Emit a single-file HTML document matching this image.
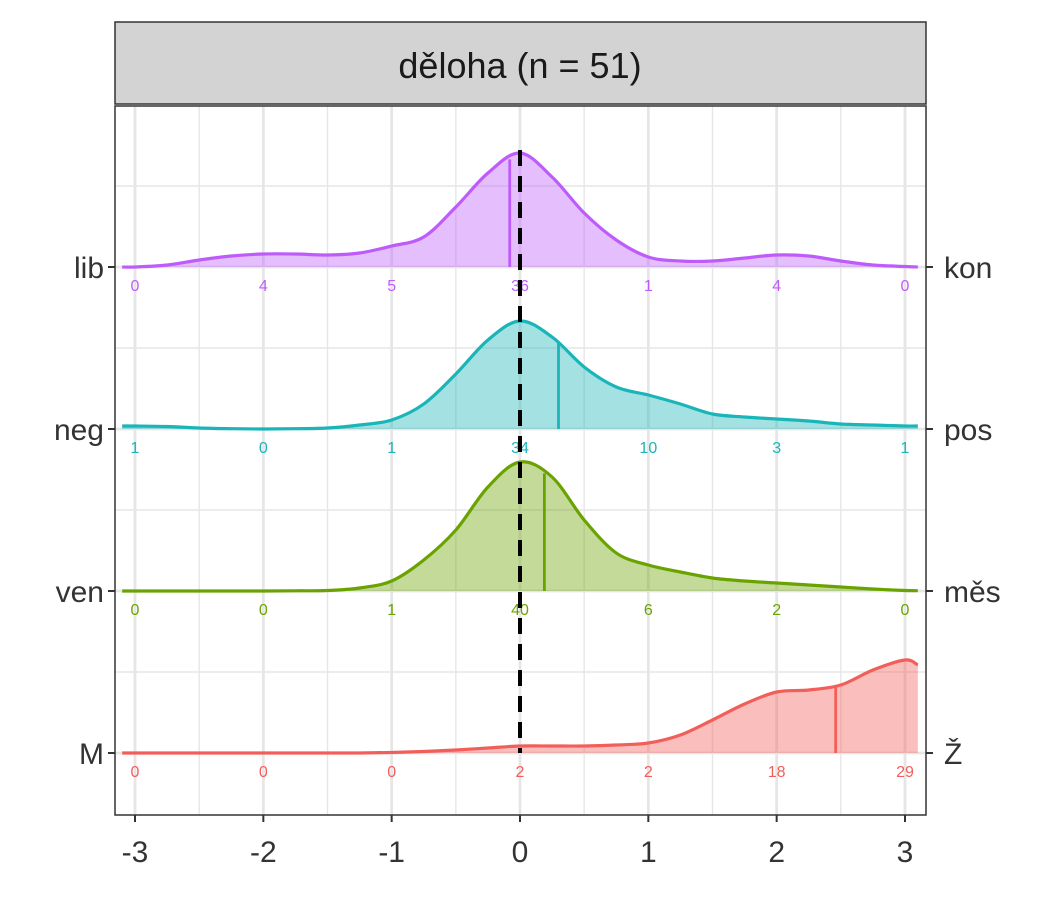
<!DOCTYPE html>
<html><head><meta charset="utf-8"><style>
body{margin:0;background:#fff;}
svg text{font-family:"Liberation Sans",sans-serif;}
</style></head><body>
<svg id="chart" width="1050" height="900" viewBox="0 0 1050 900" xmlns="http://www.w3.org/2000/svg">
<rect x="0" y="0" width="1050" height="900" fill="#fff"/>
<g id="grid"></g>
<g id="marks"></g>
<rect x="115" y="106" width="811" height="709" fill="none" stroke="#333" stroke-width="1.5"/>
<rect x="115" y="22" width="811" height="82" fill="#D3D3D3" stroke="#333" stroke-width="1.5"/>
<text x="520" y="78" font-size="36" text-anchor="middle" fill="#1a1a1a">děloha (n = 51)</text>
<g id="axes"></g>
</svg>
<script>
const xs=[-3.1,-3,-2.75,-2.5,-2.25,-2,-1.75,-1.5,-1.25,-1,-0.75,-0.5,-0.25,0,0.25,0.5,0.75,1,1.25,1.5,1.75,2,2.25,2.5,2.75,3,3.1];
const rowsLeft=["M","ven","neg","lib"];
const rowsRight=["Ž","měs","pos","kon"];
const dens_M=[0,0,0,0,0,0,0,0,0,0.5,1.5,3,5,7,7,7,8,10,18,33,49,61,63,68,83,93,88];
const dens_ven=[0,0,0,0,0,0,0.2,0.5,3,10,31,61,104,129,114,71,38,26,19,13,10,8,6,4,2,0.5,0.3];
const dens_neg=[3,3,2.5,1,0.3,0,0.3,1,4,9,25,55,89,108,92,62,42,34,25,15,12,10,8,5,4,3,3];
const dens_lib=[0,0,2,7,11,13,13,12,14,21,30,60,94,114,90,54,27,10,6,6,9,12,11,6,2,0.5,0];
const medians=[2.46,0.19,0.3,-0.08];
const countX=[-3,-2,-1,0,1,2,3];
const counts_M=[0,0,0,2,2,18,29];
const counts_ven=[0,0,1,40,6,2,0];
const counts_neg=[1,0,1,34,10,3,1];
const counts_lib=[0,4,5,36,1,4,0];
const xTicks=[-3,-2,-1,0,1,2,3];

const colors=["#F25E5A","#6AA300","#1AB5B8","#BD5CFA"];
const dens=[dens_M,dens_ven,dens_neg,dens_lib];
const cnts=[counts_M,counts_ven,counts_neg,counts_lib];
const X=v=>520+v*128.33;
const Yb=i=>753-i*162;
const NS="http://www.w3.org/2000/svg";
function mk(t,a,p){const e=document.createElementNS(NS,t);for(const k in a)e.setAttribute(k,a[k]);p.appendChild(e);return e;}
const grid=document.getElementById('grid'),marks=document.getElementById('marks'),axes=document.getElementById('axes');
mk('rect',{x:115,y:106,width:811,height:709,fill:'#fff'},grid);
for(let v=-3;v<=3;v+=0.5){const l=mk('line',{x1:X(v),x2:X(v),y1:106,y2:815,stroke:'#E6E6E6','stroke-width':Number.isInteger(v)?2.8:1.4},grid);

}
for(let i=0;i<4;i++){for(const y of [Yb(i),Yb(i)-81]){const l=mk('line',{x1:115,x2:926,y1:y,y2:y,stroke:'#E6E6E6','stroke-width':y===Yb(i)?2.8:1.4},grid);

}}
function curve(pts){let d=`M${pts[0][0]},${pts[0][1]}`;for(let i=0;i<pts.length-1;i++){const p0=pts[Math.max(0,i-1)],p1=pts[i],p2=pts[i+1],p3=pts[Math.min(pts.length-1,i+2)];
d+=` C${p1[0]+(p2[0]-p0[0])/6},${p1[1]+(p2[1]-p0[1])/6} ${p2[0]-(p3[0]-p1[0])/6},${p2[1]-(p3[1]-p1[1])/6} ${p2[0]},${p2[1]}`;}return d;}
function interp(arr,v){for(let i=0;i<xs.length-1;i++){if(v>=xs[i]&&v<=xs[i+1]){const t=(v-xs[i])/(xs[i+1]-xs[i]);return arr[i]+t*(arr[i+1]-arr[i]);}}return 0;}
for(let i=3;i>=0;i--){
  const b=Yb(i);const pts=xs.map((v,k)=>[X(v),b-dens[i][k]]);const d=curve(pts);
  const f=mk('path',{d:d+` L${X(xs[xs.length-1])},${b} L${X(xs[0])},${b} Z`,fill:colors[i],'fill-opacity':0.4,stroke:'none'},marks);
  
  
  const l=mk('path',{d:d,fill:'none',stroke:colors[i],'stroke-width':3.2},marks);
  
  
  const m=medians[i];const ml=mk('line',{x1:X(m),x2:X(m),y1:b,y2:b-interp(dens[i],m),stroke:colors[i],'stroke-width':2.8},marks);
  
  
  countX.forEach((v,k)=>{const t=mk('text',{x:X(v),y:b+24,'font-size':16,'text-anchor':'middle',fill:colors[i]},marks);t.textContent=cnts[i][k];
  
  });
}
const dl=mk('line',{x1:X(0),x2:X(0),y1:150,y2:753,stroke:'#000','stroke-width':4,'stroke-dasharray':'16,10'},marks);


xTicks.forEach(v=>{mk('line',{x1:X(v),x2:X(v),y1:815,y2:822,stroke:'#333','stroke-width':2},axes);
const t=mk('text',{x:X(v),y:862,'font-size':30,'text-anchor':'middle',fill:'#333'},axes);t.textContent=v;

});
for(let i=0;i<4;i++){const b=Yb(i);
mk('line',{x1:108,x2:115,y1:b,y2:b,stroke:'#333','stroke-width':2},axes);
mk('line',{x1:926,x2:933,y1:b,y2:b,stroke:'#333','stroke-width':2},axes);
const a=mk('text',{x:104,y:b+11,'font-size':30,'text-anchor':'end',fill:'#333'},axes);a.textContent=rowsLeft[i];


const c=mk('text',{x:944,y:b+11,'font-size':30,'text-anchor':'start',fill:'#333'},axes);c.textContent=rowsRight[i];

}
</script>
</body></html>
